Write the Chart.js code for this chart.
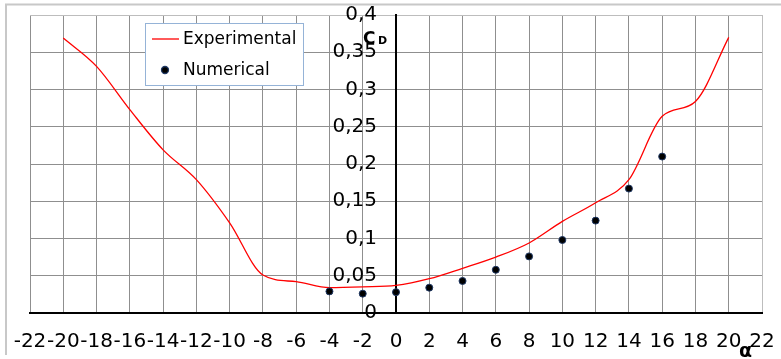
<!DOCTYPE html>
<html>
<head>
<meta charset="utf-8">
<script src="https://cdn.jsdelivr.net/npm/chart.js@4"></script>
<style>
  html, body { margin: 0; padding: 0; background: #fff; }
  #wrap { position: relative; width: 781px; height: 359px; }
</style>
</head>
<body>
<div id="wrap"><canvas id="c" width="781" height="359"></canvas></div>
<script>
// ---- data ----
const xTickLabels = ['-22','-20','-18','-16','-14','-12','-10','-8','-6','-4','-2','0','2','4','6','8','10','12','14','16','18','20','22'];
const yTickLabels = ['0','0,05','0,1','0,15','0,2','0,25','0,3','0,35','0,4'];

const expAlpha = [-20, -18, -16, -14, -12, -10, -8, -6, -4, -2, 0, 2, 4, 6, 8, 10, 12, 14, 16, 18, 20];
const expCd    = [0.369, 0.331, 0.273, 0.219, 0.179, 0.121, 0.051, 0.042, 0.034, 0.035, 0.037, 0.046, 0.060, 0.075, 0.094, 0.123, 0.148, 0.179, 0.264, 0.284, 0.370];

const numAlpha = [-4, -2, 0, 2, 4, 6, 8, 10, 12, 14, 16];
const numCd    = [0.029, 0.026, 0.028, 0.034, 0.043, 0.058, 0.076, 0.098, 0.124, 0.167, 0.210];

const seriesNames = ['Experimental', 'Numerical'];
const axisTitleY = ['C', 'D'];
const axisTitleX = 'α';

const FONT = '"DejaVu Sans", "Liberation Sans", Arial, sans-serif';
const Y_LABEL_GAP = 19;
const gridColor = (ctx) => {
  const v = ctx.tick && ctx.tick.value;
  return (v === 22 || Math.abs(v - 0.4) < 1e-9) ? '#bdbdbd' : '#8f8f8f';
};

const decor = {
  id: 'decor',
  afterUpdate(chart) {
    // centre-positioned y axis ignores tick padding: shift its labels left
    const ys = chart.scales.y;
    const items = ys.getLabelItems();
    items.forEach((it) => { it.options.translation[0] -= Y_LABEL_GAP; });
  },
  beforeDraw(chart) {
    const c = chart.ctx;
    c.save();
    c.strokeStyle = '#c8c8c8';
    c.lineWidth = 2;
    c.beginPath();
    c.moveTo(6, 355);
    c.lineTo(6, 4.5);
    c.lineTo(781, 4.5);
    c.stroke();
    c.restore();
  },
  afterDraw(chart) {
    const c = chart.ctx;
    const ds0 = chart.data.datasets[0];
    const ds1 = chart.data.datasets[1];
    c.save();
    // legend box
    c.fillStyle = '#fff';
    c.fillRect(145.5, 23.5, 158, 62);
    c.strokeStyle = '#95b3d7';
    c.lineWidth = 1;
    c.strokeRect(145.5, 23.5, 158, 62);
    c.strokeStyle = ds0.borderColor;
    c.lineWidth = ds0.borderWidth;
    c.beginPath();
    c.moveTo(152, 39);
    c.lineTo(179, 39);
    c.stroke();
    c.fillStyle = ds1.backgroundColor;
    c.strokeStyle = ds1.borderColor;
    c.beginPath();
    c.arc(165, 70, 3.5, 0, Math.PI * 2);
    c.fill();
    c.stroke();
    c.fillStyle = '#000';
    c.font = '17px ' + FONT;
    c.textBaseline = 'alphabetic';
    c.textAlign = 'left';
    c.fillText(seriesNames[0], 183, 43.5);
    c.fillText(seriesNames[1], 183, 74.5);
    // axis titles
    c.font = 'bold 17px ' + FONT;
    c.fillText(axisTitleY[0], 363, 43.5);
    c.font = 'bold 11px ' + FONT;
    c.fillText(axisTitleY[1], 378, 44);
    c.font = 'bold 19px ' + FONT;
    c.fillText(axisTitleX, 739, 357);
    c.restore();
  }
};

new Chart(document.getElementById('c'), {
  type: 'scatter',
  data: {
    datasets: [
      {
        label: seriesNames[0],
        type: 'line',
        data: expAlpha.map((a, i) => ({ x: a, y: expCd[i] })),
        borderColor: '#ff0000',
        backgroundColor: '#ff0000',
        borderWidth: 1.3,
        pointRadius: 0,
        cubicInterpolationMode: 'monotone',
        fill: false,
        order: 2
      },
      {
        label: seriesNames[1],
        data: numAlpha.map((a, i) => ({ x: a, y: numCd[i] })),
        backgroundColor: '#000000',
        borderColor: '#1f3864',
        borderWidth: 1,
        pointRadius: 3.5,
        order: 1
      }
    ]
  },
  options: {
    responsive: false,
    animation: false,
    devicePixelRatio: 1,
    layout: { padding: { left: 30, right: 19, top: 15, bottom: 5 } },
    plugins: { legend: { display: false }, tooltip: { enabled: false } },
    scales: {
      x: {
        type: 'linear',
        position: 'bottom',
        min: -22, max: 22,
        afterFit: (s) => { s.height = 41; s.paddingLeft = 0; s.paddingRight = 0; s.paddingTop = 0; s.paddingBottom = 0; },
        ticks: {
          stepSize: 2,
          autoSkip: false,
          maxRotation: 0,
          padding: 17,
          color: '#000',
          font: { family: FONT, size: 20 },
          callback: (v) => xTickLabels[Math.round((v + 22) / 2)]
        },
        grid: { color: gridColor, lineWidth: 1, drawTicks: false },
        border: { color: '#000', width: 2 }
      },
      y: {
        type: 'linear',
        position: { x: 0 },
        min: 0, max: 0.4,
        afterFit: (s) => { s.paddingLeft = 0; s.paddingRight = 0; s.paddingTop = 0; s.paddingBottom = 0; },
        ticks: {
          stepSize: 0.05,
          autoSkip: false,
          padding: 20,
          color: '#000',
          font: { family: FONT, size: 20 },
          callback: (v, i) => yTickLabels[i]
        },
        grid: { color: gridColor, lineWidth: 1, drawTicks: false },
        border: { color: '#000', width: 2 }
      }
    }
  },
  plugins: [decor]
});
</script>
</body>
</html>
